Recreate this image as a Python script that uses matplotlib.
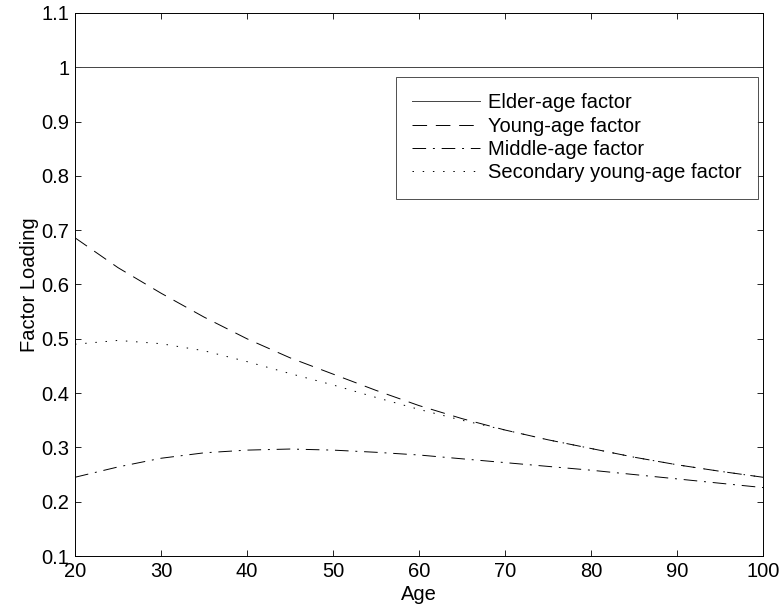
import numpy as np
import matplotlib
matplotlib.use('Agg')
import matplotlib.pyplot as plt

# factor loadings, by age
age = [20, 25, 30, 35, 40, 45, 50, 55, 60, 65, 70, 75, 80, 85, 90, 95, 100]
elder = [1.0] * len(age)
young = [0.686, 0.631, 0.584, 0.540, 0.500, 0.465, 0.435, 0.405, 0.377, 0.353,
         0.332, 0.314, 0.298, 0.282, 0.268, 0.256, 0.245]
middle = [0.245, 0.264, 0.280, 0.290, 0.295, 0.297, 0.295, 0.291, 0.286, 0.279,
          0.272, 0.265, 0.258, 0.250, 0.242, 0.234, 0.226]
secondary = [0.490, 0.497, 0.491, 0.478, 0.458, 0.436, 0.415, 0.392, 0.370, 0.350,
             0.332, 0.314, 0.298, 0.282, 0.268, 0.256, 0.245]

labels = ['Elder-age factor', 'Young-age factor', 'Middle-age factor',
          'Secondary young-age factor']

plt.rcParams['font.family'] = ['Liberation Sans', 'DejaVu Sans']
fs = 14.5

fig = plt.figure(figsize=(7.83, 6.16), dpi=100)
ax = fig.add_axes([0.0958, 0.0974, 0.8787, 0.8815])

lw = 0.7
ax.plot(age, elder, color='#444444', lw=lw, ls='-', label=labels[0])
ax.plot(age, young, color='black', lw=lw, ls=(0, (15, 9)), label=labels[1])
ax.plot(age, middle, color='black', lw=lw, ls=(0, (14, 7, 2, 7)), label=labels[2])
ax.plot(age, secondary, color='black', lw=lw, ls=(0, (1.5, 9)), label=labels[3])

ax.set_xlim(20, 100)
ax.set_ylim(0.1, 1.1)
ax.set_xticks(np.arange(20, 101, 10))
ax.set_yticks(np.round(np.arange(0.1, 1.11, 0.1), 1))
ax.set_yticklabels(['0.1', '0.2', '0.3', '0.4', '0.5', '0.6', '0.7', '0.8',
                    '0.9', '1', '1.1'])
ax.tick_params(direction='in', top=True, right=True, labelsize=fs,
               length=4, width=0.6, pad=4)
for s in ax.spines.values():
    s.set_linewidth(0.7)

ax.set_xlabel('Age', fontsize=fs, labelpad=3)
ax.set_ylabel('Factor Loading', fontsize=fs, labelpad=2)

leg = ax.legend(loc='upper right', bbox_to_anchor=(0.993, 0.882),
                borderaxespad=0, fancybox=False, edgecolor='black',
                fontsize=fs, handlelength=3.4, labelspacing=0.22,
                borderpad=0.8, handletextpad=0.4)
leg.get_frame().set_linewidth(0.6)

fig.savefig('out.png', dpi=100)
